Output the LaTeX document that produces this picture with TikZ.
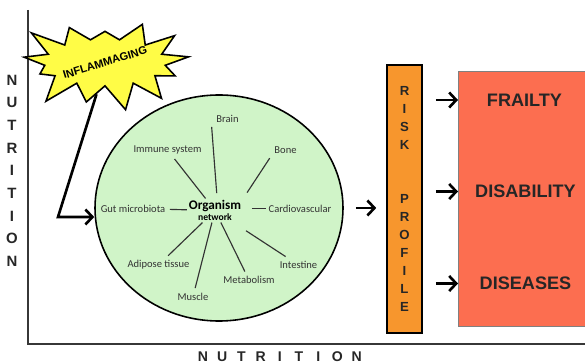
\documentclass[tikz,border=0pt]{standalone}
\usepackage{fontspec}
\setmainfont{Liberation Sans}
\newfontfamily\calibri{Carlito}
\usepackage{tikz}
\usetikzlibrary{positioning, shapes.geometric, shapes.symbols, arrows.meta, calc}

\definecolor{bodygreen}{RGB}{208,244,200}
\definecolor{burstyellow}{RGB}{255,252,70}
\definecolor{riskorange}{RGB}{247,150,45}
\definecolor{outcomered}{RGB}{252,110,80}
\definecolor{axisgray}{RGB}{55,55,55}

\begin{document}
\begin{tikzpicture}[
  organ/.style={font=\calibri\fontsize{6}{7}\selectfont, text=black!80, inner sep=2.5pt},
  hub/.style={font=\calibri\bfseries\fontsize{7.5}{8}\selectfont, align=center, inner sep=1pt},
  spoke/.style={line width=0.65pt, black!80},
  arr/.style={-{Straight Barb[length=1.4mm, width=3mm]}, line width=1.5pt},
  outcome/.style={font=\fontsize{10.3}{12}\selectfont\bfseries, text=black!85},
  axislet/.style={font=\fontsize{8.5}{10}\selectfont\bfseries, text=black!85, inner sep=0pt},
  riskbox/.style={draw, line width=0.9pt, fill=riskorange, minimum width=0.7cm, minimum height=5.36cm, align=center, inner sep=0pt, font=\fontsize{7.5}{10.2}\selectfont\bfseries, text=black!85}
]
  \useasboundingbox (0,0) rectangle (11.7,7.28);

  % axes
  \coordinate (ytop) at (0.56,7.08);
  \coordinate (origin) at (0.56,0.40);
  \coordinate (xend) at (11.7,0.40);
  \draw[axisgray, line width=1.1pt] (ytop) -- (origin) -- (xend);
  \foreach \l [count=\i] in {N,U,T,R,I,T,I,O,N}
    \node[axislet] (ylab\i) at (0.24, {(284-22.65*(\i-1))/50}) {\l};
  \foreach \l [count=\i] in {N,U,T,R,I,T,I,O,N}
    \node[axislet, font=\fontsize{8}{10}\selectfont\bfseries] (xlab\i) at ({(203+19.2*(\i-1))/50}, 0.146) {\l};

  % organism network
  \node[draw, ellipse, fill=bodygreen, line width=0.9pt, minimum width=4.96cm, minimum height=4.52cm] (body) at (4.38,3.12) {};
  \node[hub] (org) at (4.30,3.07) {Organism\\[-2pt]{\fontsize{5.5}{6}\selectfont network}};
  \node[organ] (brain) at (4.55,4.91) {Brain};
  \node[organ] (immune) at (3.35,4.28) {Immune system};
  \node[organ] (bone) at (5.71,4.28) {Bone};
  \node[organ] (gut) at (2.66,3.11) {Gut microbiota};
  \node[organ] (cardio) at (6.00,3.11) {Cardiovascular};
  \node[organ] (adipose) at (3.17,1.98) {Adipose tissue};
  \node[organ] (intestine) at (5.97,1.98) {Intestine};
  \node[organ] (metab) at (4.98,1.68) {Metabolism};
  \node[organ] (muscle) at (3.86,1.35) {Muscle};

  \draw[spoke, shorten <=3pt] (org.80) -- (brain.south west);
  \draw[spoke] (org) -- (immune);
  \draw[spoke, shorten <=4pt] (org.north east) -- (bone.south west);
  \draw[spoke] (org) -- (gut);
  \draw[spoke] ([xshift=-0.24cm]cardio.west) -- ([xshift=1pt]cardio.west);
  \draw[spoke] (org) -- (adipose);
  \draw[spoke] (org) -- (muscle);
  \draw[spoke] (org) -- (metab);
  \draw[spoke, shorten <=0.3cm] (org) -- (intestine);

  % inflammaging
  \node[starburst, draw, fill=burstyellow, line width=0.9pt, starburst points=13, starburst point height=0.6cm, random starburst=23, minimum width=2.9cm, minimum height=1.85cm, inner sep=0pt, font=\fontsize{6.3}{7}\selectfont\bfseries] (burst) at (2.10,6.03) {\rotatebox{17}{INFLAMMAGING}};
  \coordinate (bend) at (1.16,2.94);
  \draw[arr] (burst.255) -- (bend) -- (bend -| body.west);

  % risk and outcomes
  \node[riskbox] (risk) at (8.09,3.30) {R\\I\\S\\K\\[20.4pt]P\\R\\O\\F\\I\\L\\E};
  \node[draw=gray, fill=outcomered, minimum width=2.8cm, minimum height=5.10cm, anchor=south west] (outcomes) at (9.16,0.74) {};
  \node[outcome] (frailty) at (10.49,5.28) {FRAILTY};
  \node[outcome] (disability) at (10.51,3.45) {DISABILITY};
  \node[outcome] (diseases) at (10.51,1.61) {DISEASES};

  \draw[arr, shorten <=0.24cm, shorten >=0.2cm] (body.east) -- (body.east -| risk.west);
  \draw[arr, shorten <=0.26cm] (risk.east |- frailty) -- (outcomes.west |- frailty);
  \draw[arr, shorten <=0.26cm] (risk.east |- disability) -- (outcomes.west |- disability);
  \draw[arr, shorten <=0.26cm] (risk.east |- diseases) -- (outcomes.west |- diseases);
\end{tikzpicture}
\end{document}
